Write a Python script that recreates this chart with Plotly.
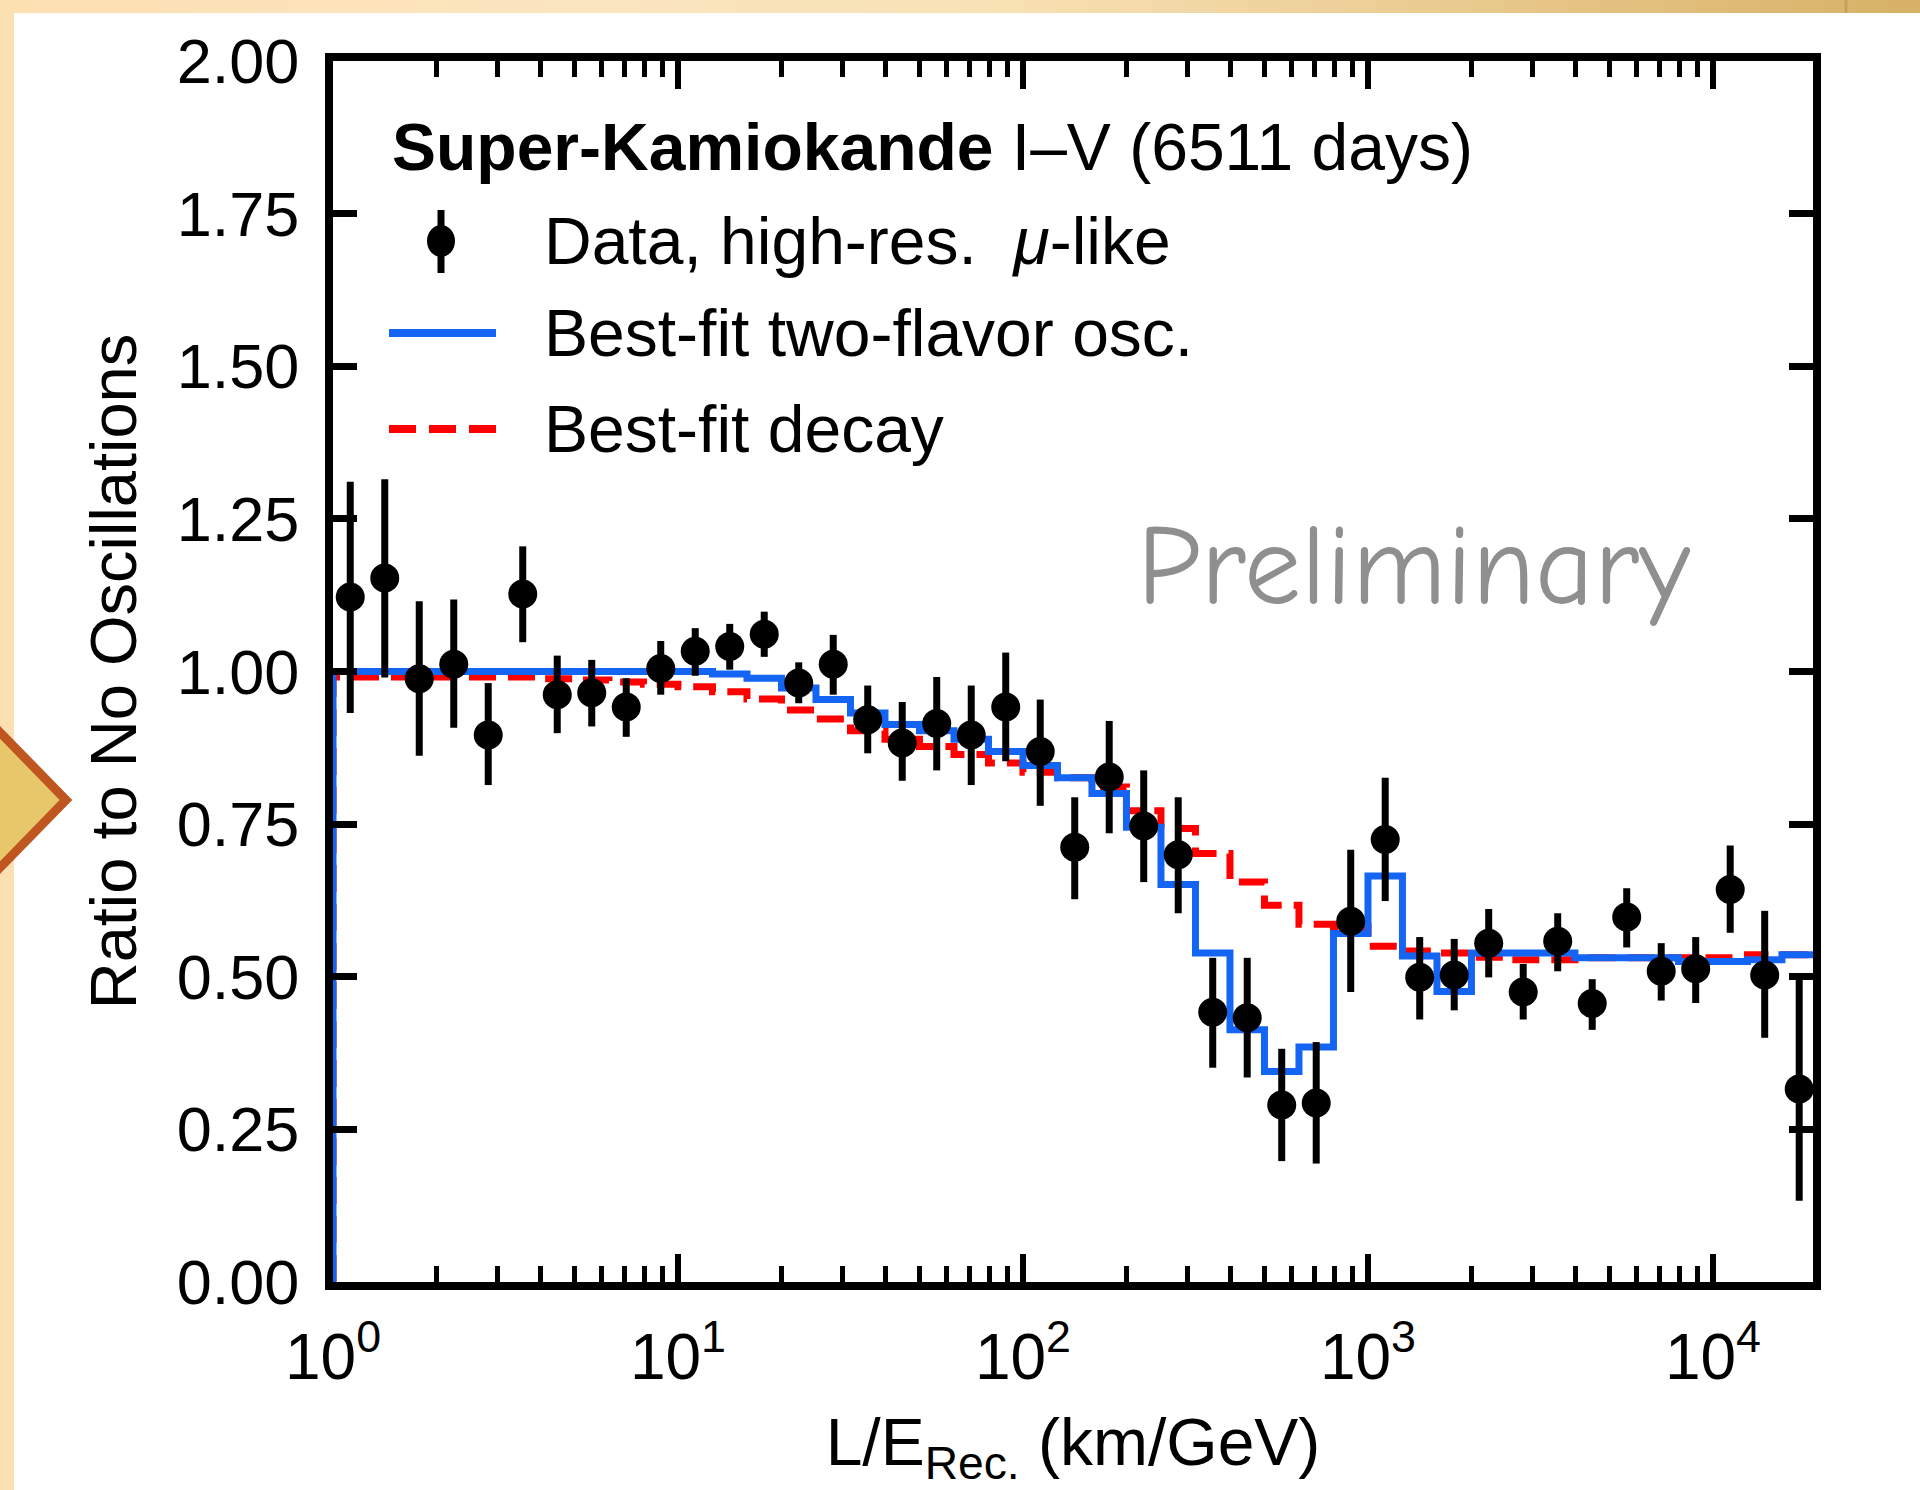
import plotly.graph_objects as go

# ---------------------------------------------------------------------------
# Binning: log10(L/E) bin edges, 0.1 decade wide
bin_edges_log = [0.0, 0.1, 0.2, 0.3, 0.4, 0.5, 0.6, 0.7, 0.8, 0.9,
                 1.0, 1.1, 1.2, 1.3, 1.4, 1.5, 1.6, 1.7, 1.8, 1.9,
                 2.0, 2.1, 2.2, 2.3, 2.4, 2.5, 2.6, 2.7, 2.8, 2.9,
                 3.0, 3.1, 3.2, 3.3, 3.4, 3.5, 3.6, 3.7, 3.8, 3.9,
                 4.0, 4.1, 4.2, 4.3]

# Data / no-oscillation ratio per bin, with upper and lower error-bar ends
data_ratio = [1.122, 1.153, 0.988, 1.012, 0.896, 1.127, 0.962, 0.965, 0.942, 1.005,
              1.033, 1.041, 1.061, 0.981, 1.012, 0.921, 0.883, 0.915, 0.896, 0.942,
              0.869, 0.712, 0.827, 0.747, 0.700, 0.442, 0.433, 0.290, 0.293, 0.591,
              0.725, 0.499, 0.503, 0.555, 0.475, 0.558, 0.456, 0.598, 0.509, 0.513,
              0.643, 0.503, 0.316]
data_upper = [1.311, 1.315, 1.115, 1.118, 0.981, 1.205, 1.026, 1.019, 0.989, 1.050,
              1.071, 1.078, 1.098, 1.015, 1.060, 0.977, 0.950, 0.991, 0.977, 1.031,
              0.954, 0.794, 0.919, 0.838, 0.794, 0.531, 0.531, 0.382, 0.393, 0.708,
              0.826, 0.565, 0.562, 0.611, 0.521, 0.604, 0.496, 0.645, 0.555, 0.565,
              0.715, 0.608, 0.496]
data_lower = [0.932, 0.990, 0.862, 0.908, 0.814, 1.048, 0.899, 0.910, 0.893, 0.962,
              0.993, 1.003, 1.024, 0.948, 0.962, 0.866, 0.821, 0.838, 0.814, 0.853,
              0.780, 0.627, 0.735, 0.655, 0.604, 0.351, 0.335, 0.198, 0.194, 0.475,
              0.624, 0.430, 0.445, 0.499, 0.430, 0.509, 0.413, 0.548, 0.461, 0.457,
              0.572, 0.400, 0.133]

# Best-fit predictions per bin
osc_two_flavor = [1.000, 1.000, 1.000, 1.000, 1.000, 1.000, 1.000, 1.000, 1.000, 1.000,
                  1.000, 0.996, 0.989, 0.973, 0.954, 0.932, 0.913, 0.903, 0.889, 0.869,
                  0.846, 0.826, 0.800, 0.745, 0.651, 0.539, 0.413, 0.345, 0.385, 0.571,
                  0.665, 0.534, 0.476, 0.539, 0.539, 0.539, 0.531, 0.531, 0.531, 0.525,
                  0.525, 0.528, 0.536]
decay_fit = [0.991, 0.991, 0.991, 0.991, 0.991, 0.991, 0.988, 0.986, 0.983, 0.979,
             0.975, 0.967, 0.955, 0.937, 0.922, 0.903, 0.889, 0.877, 0.864, 0.850,
             0.835, 0.826, 0.811, 0.772, 0.743, 0.702, 0.655, 0.617, 0.586, 0.582,
             0.550, 0.542, 0.539, 0.532, 0.528, 0.528, 0.531, 0.531, 0.531, 0.531,
             0.531, 0.536, 0.536]

y_tick_values = [0.0, 0.25, 0.5, 0.75, 1.0, 1.25, 1.5, 1.75, 2.0]
x_major_ticks = [1, 10, 100, 1000, 10000]
x_major_text = ["10<sup>0</sup>", "10<sup>1</sup>", "10<sup>2</sup>",
                "10<sup>3</sup>", "10<sup>4</sup>"]
x_minor_ticks = [m * 10 ** k for k in range(5) for m in range(2, 10) if m * 10 ** k < 19000]

legend_title = "<b>Super-Kamiokande</b> I\u2013V (6511 days)"
legend_labels = ["Data, high-res.  <i>\u03bc</i>-like",
                 "Best-fit two-flavor osc.",
                 "Best-fit decay"]
watermark = "Preliminary"

# ---------------------------------------------------------------------------
W, H = 1920, 1490
L_PX, R_PX, T_PX, B_PX = 333, 1813, 61, 1282
FONT = "Liberation Sans, Arial, Helvetica, sans-serif"
BLUE = "#1565f5"
RED = "#ff0000"


def px(x):
    return (x - L_PX) / (R_PX - L_PX)


def py(y):
    return (B_PX - y) / (B_PX - T_PX)


edges = [10 ** e for e in bin_edges_log]
centers = [10 ** ((a + b) / 2) for a, b in zip(bin_edges_log[:-1], bin_edges_log[1:])]
err_plus = [u - v for u, v in zip(data_upper, data_ratio)]
err_minus = [v - d for v, d in zip(data_ratio, data_lower)]


def step_xy(values):
    # histogram outline rising from zero at the first edge
    return [edges[0]] + edges, [0.0] + values + [values[-1]]


fig = go.Figure()

xs, ys = step_xy(decay_fit)
fig.add_trace(go.Scatter(x=xs, y=ys, mode="lines", line_shape="hv",
                         line=dict(color=RED, width=7, dash="27px,12px"),
                         name="Best-fit decay", showlegend=False))
xs, ys = step_xy(osc_two_flavor)
fig.add_trace(go.Scatter(x=xs, y=ys, mode="lines", line_shape="hv",
                         line=dict(color=BLUE, width=7),
                         name="Best-fit two-flavor osc.", showlegend=False))
fig.add_trace(go.Scatter(x=centers, y=data_ratio, mode="markers",
                         marker=dict(color="black", size=29, symbol="circle"),
                         error_y=dict(type="data", array=err_plus, arrayminus=err_minus,
                                      color="black", thickness=7, width=0),
                         name="Data", showlegend=False))

shapes = []

# slide frame: left band and shaded top band
shapes.append(dict(type="rect", xref="paper", yref="paper",
                   x0=px(0), x1=px(14), y0=py(0), y1=py(H),
                   fillcolor="#fde0b1", line=dict(width=0), layer="above"))
stops = [(0, (253, 224, 178)), (600, (251, 229, 191)), (1000, (248, 225, 180)),
         (1400, (236, 206, 148)), (1800, (220, 183, 112)), (1920, (214, 176, 102))]


def band_color(x):
    for (xa, ca), (xb, cb) in zip(stops[:-1], stops[1:]):
        if xa <= x <= xb:
            t = (x - xa) / (xb - xa)
            c = [round(a + (b - a) * t) for a, b in zip(ca, cb)]
            return "rgb({},{},{})".format(*c)
    return "rgb({},{},{})".format(*stops[-1][1])


seg = 32
for x0 in range(0, W, seg):
    shapes.append(dict(type="rect", xref="paper", yref="paper",
                       x0=px(x0), x1=px(x0 + seg + 1), y0=py(0), y1=py(13),
                       fillcolor=band_color(x0 + seg / 2), line=dict(width=0), layer="above"))
shapes.append(dict(type="line", xref="paper", yref="paper",
                   x0=px(1846), x1=px(1846), y0=py(0), y1=py(13),
                   line=dict(color="rgb(196,160,92)", width=3), layer="above"))

# pointer arrow on the left edge
shapes.append(dict(type="path", xref="paper", yref="paper",
                   path="M {},{} L {},{} L {},{} Z".format(px(-14), py(718), px(66), py(800),
                                                          px(-14), py(882)),
                   fillcolor="#e8c76b", line=dict(color="#c0561f", width=9), layer="above"))

# legend symbols
mx, my = 441, 241
shapes.append(dict(type="line", xref="paper", yref="paper",
                   x0=px(mx), x1=px(mx), y0=py(210), y1=py(273),
                   line=dict(color="black", width=7)))
shapes.append(dict(type="circle", xref="paper", yref="paper",
                   x0=px(mx - 14), x1=px(mx + 14), y0=py(my - 16), y1=py(my + 16),
                   fillcolor="black", line=dict(color="black", width=0)))
shapes.append(dict(type="line", xref="paper", yref="paper",
                   x0=px(389), x1=px(496), y0=py(333), y1=py(333),
                   line=dict(color=BLUE, width=8)))
shapes.append(dict(type="line", xref="paper", yref="paper",
                   x0=px(389), x1=px(496), y0=py(429), y1=py(429),
                   line=dict(color=RED, width=8, dash="27px,13px")))

annotations = [
    dict(text=legend_title, x=px(390), y=py(147), xref="paper", yref="paper",
         xanchor="left", yanchor="middle", showarrow=False,
         font=dict(family=FONT, size=66, color="black")),
]
for label, yy in zip(legend_labels, [241, 333, 429]):
    annotations.append(dict(text=label, x=px(542), y=py(yy), xref="paper", yref="paper",
                            xanchor="left", yanchor="middle", showarrow=False,
                            font=dict(family=FONT, size=66, color="black")))
annotations.append(dict(text=watermark, x=px(1135), y=py(566), xref="paper", yref="paper",
                        xanchor="left", yanchor="middle", showarrow=False,
                        font=dict(family="Comic Sans MS, Comic Neue, Noto Sans, sans-serif",
                                  size=114, color="#8f8f8f")))

fig.update_layout(
    width=W, height=H,
    margin=dict(l=L_PX, r=W - R_PX, t=T_PX, b=H - B_PX, autoexpand=False),
    paper_bgcolor="white", plot_bgcolor="white",
    font=dict(family=FONT, color="black"),
    shapes=shapes, annotations=annotations, showlegend=False,
    xaxis=dict(type="log", range=[0, 4.29],
               showline=True, linecolor="black", linewidth=8, mirror="ticks",
               ticks="inside", ticklen=28, tickwidth=6, tickcolor="black",
               tickvals=x_major_ticks, ticktext=x_major_text,
               tickfont=dict(family=FONT, size=64), ticklabelstandoff=12,
               minor=dict(tickvals=x_minor_ticks, ticks="inside", ticklen=16,
                          tickwidth=5, tickcolor="black", showgrid=False),
               showgrid=False, zeroline=False,
               title=dict(text="L/E<sub>Rec.</sub> (km/GeV)", standoff=30,
                          font=dict(family=FONT, size=66))),
    yaxis=dict(range=[0, 2],
               showline=True, linecolor="black", linewidth=8, mirror="ticks",
               ticks="inside", ticklen=24, tickwidth=7, tickcolor="black",
               tickvals=y_tick_values, tickformat=".2f",
               tickfont=dict(family=FONT, size=63), ticklabelstandoff=13,
               showgrid=False, zeroline=False,
               title=dict(text="Ratio to No Oscillations", standoff=22,
                          font=dict(family=FONT, size=65))),
)

fig.write_html("out.html")
